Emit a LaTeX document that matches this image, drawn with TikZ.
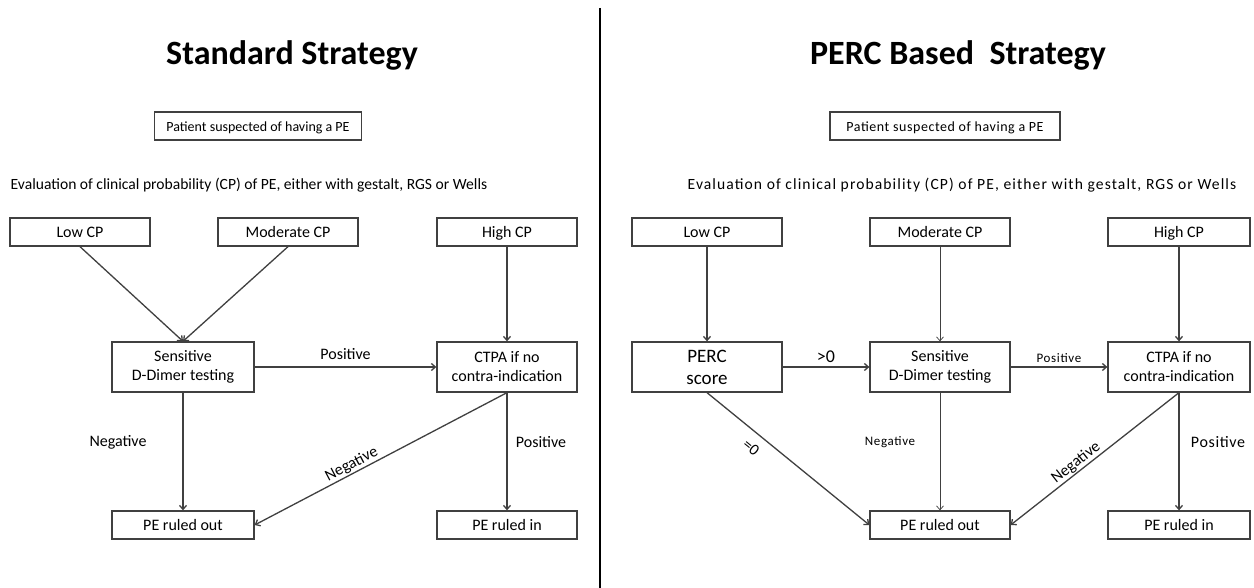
\documentclass[tikz,border=0pt]{standalone}
\usepackage{fontspec}
\setmainfont{Carlito}
\usetikzlibrary{arrows.meta}
\begin{document}
\begin{tikzpicture}[x=1pt,y=-1pt,
 box/.style={draw=black!75, line width=1.3pt, minimum width=140pt, minimum height=28pt, inner sep=0pt, align=center, font=\fontsize{16}{19}\selectfont},
 onebox/.style={box, text height=10.5pt, text depth=0pt},
 tallbox/.style={box, minimum height=50pt},
 conn/.style={draw=black!75, line width=1.3pt, -{Straight Barb[length=4pt,width=7pt]}},
 thinconn/.style={conn, line width=0.7pt},
 lab/.style={font=\fontsize{16}{19}\selectfont, inner sep=1pt},
 slab/.style={font=\fontsize{13}{15}\selectfont\addfontfeature{LetterSpace=5}, inner sep=1pt},
 evaltext/.style={font=\fontsize{15.6}{18}\selectfont},
 titletext/.style={font=\fontsize{34}{38}\selectfont\bfseries}]
\useasboundingbox (0,0) rectangle (1254,588);
\fill[white] (0,0) rectangle (1254,588);
% divider
\draw[line width=2pt] (600,8) -- (600,588);

% ---------- left ----------
\node[titletext] (t1) at (292,55) {Standard Strategy};
\node[onebox, minimum width=207pt, font=\fontsize{14}{17}\selectfont] (pat1) at (258,126) {Patient suspected of having a PE};
\node[evaltext] (ev1) at (249,185) {Evaluation of clinical probability (CP) of PE, either with gestalt, RGS or Wells};
\node[onebox] (low1) at (80,232) {Low CP};
\node[onebox] (mod1) at (288,232) {Moderate CP};
\node[onebox] (high1) at (507,232) {High CP};
\node[tallbox, minimum width=142pt] (sens1) at (183,367) {Sensitive\\D-Dimer testing};
\node[tallbox] (ctpa1) at (507,367) {CTPA if no\\contra-indication};
\node[onebox, minimum width=142pt] (out1) at (183,525) {PE ruled out};
\node[onebox] (in1) at (507,525) {PE ruled in};

\draw[conn] (low1.south) -- (sens1.north);
\draw[conn] (mod1.south) -- (sens1.north);
\draw[conn] (high1.south) -- (ctpa1.north);
\draw[conn] (sens1.east) -- node[lab, above=6pt] (lp1) {Positive} (ctpa1.west);
\draw[conn] (sens1.south) -- (out1.north);
\node[lab] (ln1) at (118,442) {Negative};
\draw[conn] (ctpa1.south) -- node[lab, pos=0.6, sloped, above] (ln2) {Negative} (out1.east);
\draw[conn] (ctpa1.south) -- (in1.north);
\node[lab] (lp2) at (541,442) {Positive};

% ---------- right ----------
\node[titletext] (t2) at (958,55) {PERC Based\ \ Strategy};
\node[onebox, minimum width=230pt, font=\fontsize{14}{17}\selectfont\addfontfeature{LetterSpace=4}] (pat2) at (945,126) {Patient suspected of having a PE};
\node[evaltext, font=\fontsize{15.6}{18}\selectfont\addfontfeature{LetterSpace=7}] (ev2) at (962,185) {Evaluation of clinical probability (CP) of PE, either with gestalt, RGS or Wells};
\node[onebox, minimum width=150pt] (low2) at (707,232) {Low CP};
\node[onebox] (mod2) at (940,232) {Moderate CP};
\node[onebox, minimum width=142pt] (high2) at (1179,232) {High CP};
\node[tallbox, minimum width=150pt, font=\fontsize{19}{22}\selectfont] (perc) at (707,367) {PERC\\score};
\node[tallbox] (sens2) at (940,367) {Sensitive\\D-Dimer testing};
\node[tallbox, minimum width=142pt] (ctpa2) at (1179,367) {CTPA if no\\contra-indication};
\node[onebox] (out2) at (940,525) {PE ruled out};
\node[onebox, minimum width=142pt] (in2) at (1179,525) {PE ruled in};

\draw[conn] (low2.south) -- (perc.north);
\draw[thinconn] (mod2.south) -- (sens2.north);
\draw[conn] (high2.south) -- (ctpa2.north);
\draw[conn] (perc.east) -- node[lab, font=\fontsize{18}{20}\selectfont, above=3pt] (gt) {>0} (sens2.west);
\draw[conn] (sens2.east) -- node[slab, above=3pt] (lp3) {Positive} (ctpa2.west);
\draw[conn] (perc.south) -- node[lab, pos=0.33, sloped, below=8pt] (eq) {=0} (out2.west);
\draw[thinconn] (sens2.south) -- (out2.north);
\node[slab] (ln3) at (890,442) {Negative};
\draw[conn] (ctpa2.south) -- node[lab, pos=0.58, sloped, above=0pt] (ln4) {Negative} (out2.east);
\draw[conn] (ctpa2.south) -- (in2.north);
\node[lab] (lp4) at (1218,442) {\addfontfeature{LetterSpace=4}Positive};
\end{tikzpicture}
\end{document}
